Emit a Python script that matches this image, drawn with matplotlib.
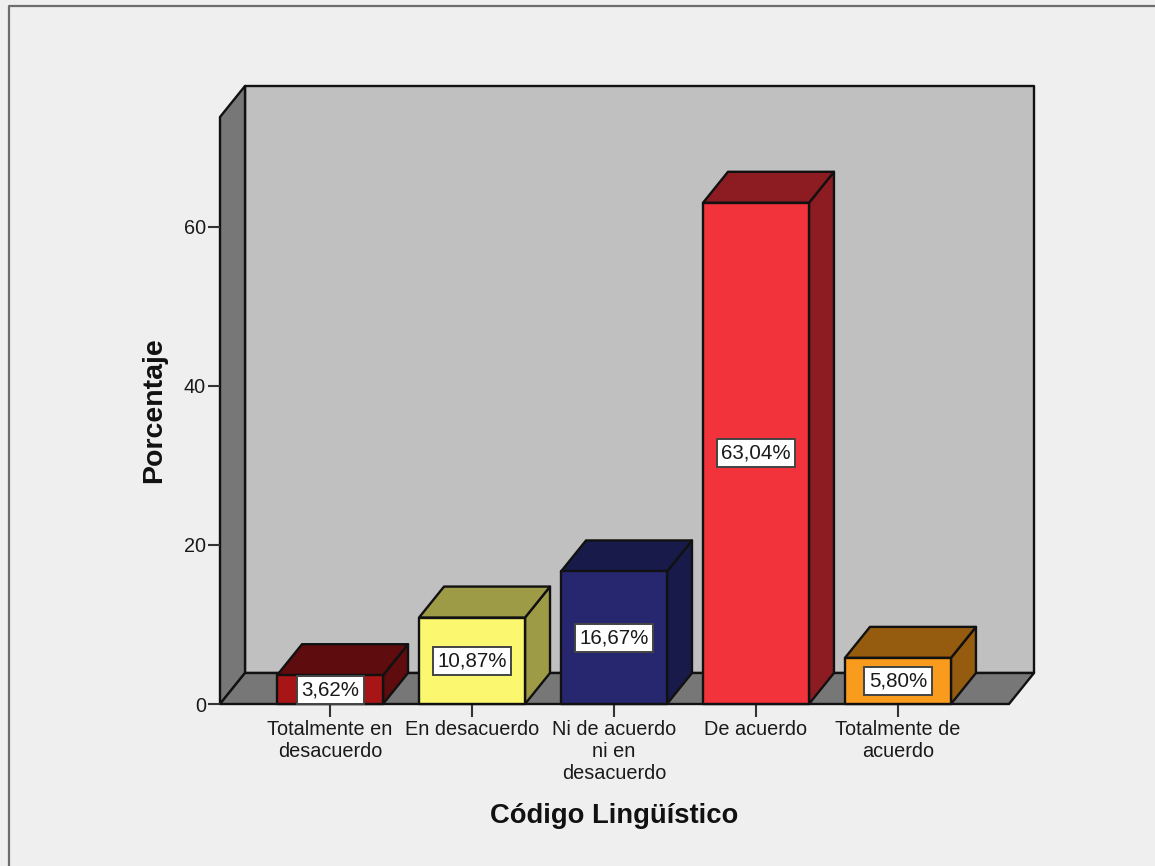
import matplotlib
matplotlib.use('Agg')
import matplotlib.pyplot as plt
from matplotlib.lines import Line2D
from matplotlib.patches import Polygon

categories = ['Totalmente en\ndesacuerdo', 'En desacuerdo', 'Ni de acuerdo\nni en\ndesacuerdo',
              'De acuerdo', 'Totalmente de\nacuerdo']
porcentajes = [3.62, 10.87, 16.67, 63.04, 5.80]
etiquetas = ['3,62%', '10,87%', '16,67%', '63,04%', '5,80%']
yticks = [0, 20, 40, 60]
frente = ['#A81517', '#FBF76F', '#26276F', '#F2333B', '#F99B1C']
lado = ['#5E0C0D', '#9E9B47', '#181A4A', '#8C1C22', '#955C10']

W, H = 1155, 866
plt.rcParams['font.family'] = ['Liberation Sans', 'DejaVu Sans']

fig = plt.figure(figsize=(W / 100, H / 100), dpi=100, facecolor='#EFEFEF')
ax = fig.add_axes([220 / W, (H - 704) / H, 789 / W, 587 / H])
ax.patch.set_visible(False)
x0, x1 = -0.775, 4.782
ymax = 73.83
ax.set_xlim(x0, x1)
ax.set_ylim(0, ymax)
for s in ax.spines.values():
    s.set_visible(False)

# depth of the fake 3D, in data units
dx = 25 / 142
dy = 31 / 7.95
ancho = 106 / 142


def poly(pts, color, z):
    ax.add_patch(Polygon(pts, closed=True, facecolor=color, edgecolor='#111111',
                         linewidth=1.7, joinstyle='round', clip_on=False, zorder=z))


# walls and floor
poly([(x0 + dx, dy), (x1 + dx, dy), (x1 + dx, ymax + dy), (x0 + dx, ymax + dy)], '#C0C0C0', 1)
poly([(x0, 0), (x0 + dx, dy), (x0 + dx, ymax + dy), (x0, ymax)], '#777777', 1.1)
poly([(x0, 0), (x1, 0), (x1 + dx, dy), (x0 + dx, dy)], '#777777', 1.1)

# bars
for i, v in enumerate(porcentajes):
    a = i - ancho / 2
    b = i + ancho / 2
    z = 2 + i
    poly([(b, 0), (b + dx, dy), (b + dx, v + dy), (b, v)], lado[i], z)
    poly([(a, v), (b, v), (b + dx, v + dy), (a + dx, v + dy)], lado[i], z)
    poly([(a, 0), (b, 0), (b, v), (a, v)], frente[i], z + 0.1)
    ax.text(i, v / 2, etiquetas[i], ha='center', va='center', fontsize=14.8, color='#1A1A1A',
            zorder=z + 0.2, bbox=dict(boxstyle='square,pad=0.22', facecolor='white',
                                      edgecolor='#444444', linewidth=1.4))

ax.set_xticks(range(len(categories)))
ax.set_xticklabels(categories, fontsize=14.3, color='#1A1A1A', linespacing=1.2)
ax.set_yticks(yticks)
ax.tick_params(axis='x', length=9, width=1.5, color='#333333', pad=2.5)
ax.tick_params(axis='y', length=9, width=1.5, color='#333333', pad=1, labelsize=14.3, labelcolor='#1A1A1A')

ax.set_xlabel('Código Lingüístico', fontsize=19.7, fontweight='bold', color='#111111')
ax.xaxis.set_label_coords(0.499, -0.19)
ax.xaxis.label.set_va('center')
ax.set_ylabel('Porcentaje', fontsize=20.5, fontweight='bold', color='#111111')
ax.yaxis.set_label_coords(-0.084, 0.5)
ax.yaxis.label.set_va('center')

# outer frame, only left and top are visible in the screenshot
fig.add_artist(Line2D([9 / W, 9 / W, 1], [0, 1 - 6 / H, 1 - 6 / H], color='#6E6E6E', linewidth=1.6))

fig.savefig('out.png', dpi=100, facecolor=fig.get_facecolor())
